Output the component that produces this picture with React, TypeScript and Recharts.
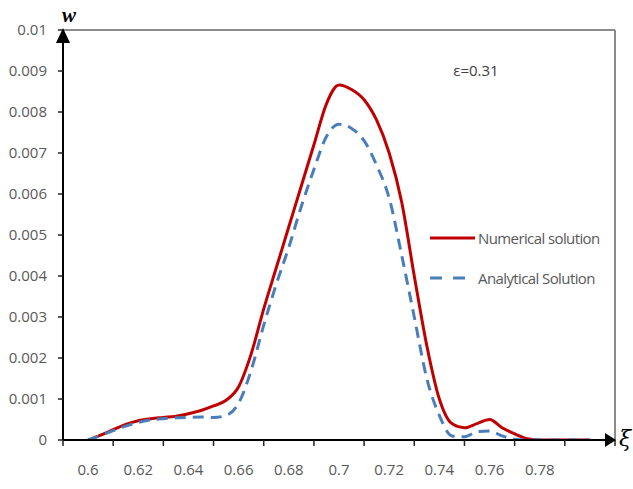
import React from "react";
import {
  ComposedChart,
  Line,
  XAxis,
  YAxis,
  Legend,
  ReferenceLine,
  ReferenceDot,
} from "recharts";

// xi values of the sampled points
const xi = [
  0.6, 0.605, 0.61, 0.615, 0.62, 0.625, 0.63, 0.635, 0.64, 0.645, 0.65, 0.655,
  0.66, 0.665, 0.67, 0.675, 0.68, 0.685, 0.69, 0.695, 0.7, 0.705, 0.71, 0.715,
  0.72, 0.725, 0.73, 0.735, 0.74, 0.745, 0.75, 0.755, 0.76, 0.765, 0.77, 0.775,
  0.78, 0.79, 0.8,
];

const numerical = [
  0, 0.00012, 0.00025, 0.00038, 0.00047, 0.00052, 0.00055, 0.00058, 0.00064,
  0.00072, 0.00083, 0.00097, 0.0013, 0.0021, 0.0032, 0.0042, 0.0052, 0.0062,
  0.0072, 0.0082, 0.00866, 0.00855, 0.0083, 0.0078, 0.007, 0.0058, 0.004,
  0.0023, 0.001, 0.0004, 0.0003, 0.0004, 0.0005, 0.0003, 0.00015, 0.00003, 0,
  0, 0,
];

const analytical = [
  0, 0.00011, 0.00023, 0.00034, 0.00043, 0.00049, 0.00052, 0.00054, 0.00055,
  0.00056, 0.00055, 0.0006, 0.0009, 0.0017, 0.0028, 0.0038, 0.0047, 0.0057,
  0.0066, 0.0074, 0.0077, 0.0076, 0.0073, 0.0067, 0.0059, 0.0045, 0.003,
  0.0015, 0.0006, 0.0001, 0.00008, 0.0002, 0.00022, 0.0001, 0.00002, 0, 0, 0,
  0,
];

// category boundaries (tick marks) and the labels sitting between them
const xBounds = [
  0.59, 0.61, 0.63, 0.65, 0.67, 0.69, 0.71, 0.73, 0.75, 0.77, 0.79, 0.81,
];
const xLabels = ["0.6", "0.62", "0.64", "0.66", "0.68", "0.7", "0.72", "0.74", "0.76", "0.78"];

const yTicks = [
  0, 0.001, 0.002, 0.003, 0.004, 0.005, 0.006, 0.007, 0.008, 0.009, 0.01,
];

const data = xi.map((x, i) => ({
  xi: x,
  numerical: numerical[i],
  analytical: analytical[i],
}));

const W = 633;
const H = 489;
const LEFT = 63;
const RIGHT = 18;
const TOP = 30;
const X_AXIS_H = 49;
const HALF_BAND = (W - LEFT - RIGHT) / (xBounds.length - 1) / 2;

const FONT = "'Open Sans', sans-serif";
const GREY = "#595959";
const RED = "#c00000";
const BLUE = "#4a7ebb";

const legendOrder = ["numerical", "analytical"];
const legendStyle: Record<string, { color: string; dash?: string; x2: number }> = {
  numerical: { color: RED, x2: 47 },
  analytical: { color: BLUE, dash: "12 11", x2: 37 },
};

const XTick = (props: any) => {
  const { x, y, index } = props;
  const label = xLabels[index];
  if (!label) return null;
  return (
    <text
      x={x + HALF_BAND}
      y={y}
      dy={27}
      textAnchor="middle"
      fill={GREY}
      fontSize={15}
      fontFamily={FONT}
    >
      {label}
    </text>
  );
};

const renderLegend = (props: any) => {
  const items = [...(props.payload || [])].sort(
    (a: any, b: any) =>
      legendOrder.indexOf(a.dataKey) - legendOrder.indexOf(b.dataKey)
  );
  return (
    <div style={{ fontFamily: FONT, fontSize: 15, color: GREY }}>
      {items.map((entry: any) => {
        const s = legendStyle[entry.dataKey];
        return (
          <div
            key={entry.dataKey}
            style={{ display: "flex", alignItems: "center", height: 40 }}
          >
            <svg width={50} height={10}>
              <line
                x1={2}
                x2={s.x2}
                y1={5}
                y2={5}
                stroke={s.color}
                strokeWidth={3}
                strokeDasharray={s.dash}
              />
            </svg>
            <span style={{ letterSpacing: -0.6 }}>{entry.value}</span>
          </div>
        );
      })}
    </div>
  );
};

const UpArrow = (props: any) => {
  const { cx, cy } = props;
  return (
    <g>
      <path
        d={`M${cx - 7},${cy + 13} L${cx},${cy - 2} L${cx + 7},${cy + 13} Z`}
        fill="#000"
      />
      <text
        x={cx + 6}
        y={cy - 8}
        textAnchor="middle"
        fontSize={21}
        fontStyle="italic"
        fontWeight="bold"
        fontFamily="'Liberation Serif', serif"
      >
        w
      </text>
    </g>
  );
};

const RightArrow = (props: any) => {
  const { cx, cy } = props;
  return (
    <g>
      <path
        d={`M${cx - 10},${cy - 7} L${cx + 1},${cy} L${cx - 10},${cy + 7} Z`}
        fill="#000"
      />
      <text
        x={cx + 4}
        y={cy + 6}
        fontSize={22}
        fontStyle="italic"
        fontFamily="'DejaVu Serif', serif"
      >
        ξ
      </text>
    </g>
  );
};

const EpsText = (props: any) => {
  const { cx, cy } = props;
  return (
    <text
      x={cx}
      y={cy + 5}
      textAnchor="middle"
      fontSize={15}
      fontFamily={FONT}
      fill="#404040"
    >
      ε=0.31
    </text>
  );
};

export default function App() {
  return (
    <div style={{ position: "absolute", left: 0, top: 0, background: "#fff" }}>
      <ComposedChart
        width={W}
        height={H}
        data={data}
        margin={{ top: TOP, right: RIGHT, left: 0, bottom: 0 }}
      >
        <XAxis
          dataKey="xi"
          type="number"
          domain={[0.59, 0.81]}
          ticks={xBounds}
          interval={0}
          height={X_AXIS_H}
          axisLine={{ stroke: "#000", strokeWidth: 2 }}
          tickLine={{ stroke: "#222", strokeWidth: 1.5 }}
          tickSize={6}
          tick={<XTick />}
          allowDataOverflow
        />
        <YAxis
          type="number"
          domain={[0, 0.01]}
          ticks={yTicks}
          interval={0}
          width={LEFT}
          axisLine={{ stroke: "#000", strokeWidth: 2 }}
          tickLine={{ stroke: "#222", strokeWidth: 1.5 }}
          tickSize={5}
          tickMargin={11}
          tickFormatter={(v: number) => String(v)}
          tick={{ fill: GREY, fontSize: 15, fontFamily: FONT }}
          allowDataOverflow
        />
        <ReferenceLine y={0.01} stroke="#8c8c8c" strokeWidth={2} ifOverflow="visible" />
        <ReferenceLine x={0.81} stroke="#8c8c8c" strokeWidth={2} ifOverflow="visible" />
        <Line
          type="monotone"
          dataKey="numerical"
          name="Numerical solution"
          stroke={RED}
          strokeWidth={3}
          dot={false}
          activeDot={false}
          isAnimationActive={false}
        />
        <Line
          type="monotone"
          dataKey="analytical"
          name="Analytical Solution"
          stroke={BLUE}
          strokeWidth={3}
          strokeDasharray="11 7"
          dot={false}
          activeDot={false}
          isAnimationActive={false}
        />
        <ReferenceDot x={0.59} y={0.01} ifOverflow="visible" shape={<UpArrow />} />
        <ReferenceDot x={0.81} y={0} ifOverflow="visible" shape={<RightArrow />} />
        <ReferenceDot x={0.7546} y={0.009} ifOverflow="visible" shape={<EpsText />} />
        <Legend
          layout="horizontal"
          verticalAlign="middle"
          content={renderLegend}
          wrapperStyle={{ top: 218, left: 428, width: 200 }}
        />
      </ComposedChart>
    </div>
  );
}
